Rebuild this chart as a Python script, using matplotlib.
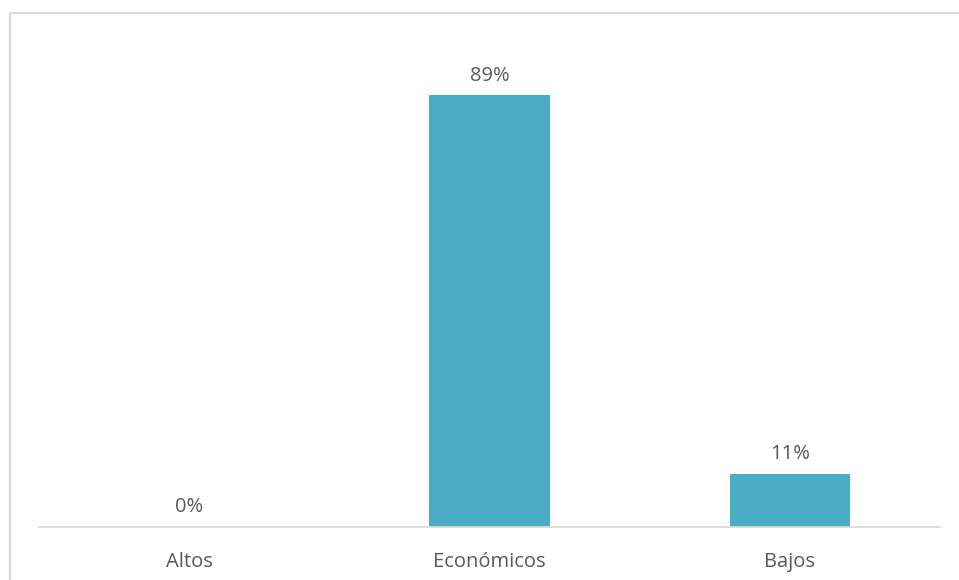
import matplotlib.pyplot as plt
from matplotlib.lines import Line2D

categorias = ["Altos", "Económicos", "Bajos"]
porcentajes = [0, 89, 11]

plt.rcParams['font.family'] = ['Open Sans', 'DejaVu Sans']

W, H = 959, 580
fig = plt.figure(figsize=(W / 100, H / 100), dpi=100)
ax = fig.add_axes([39 / W, 1 - 527 / H, 901 / W, (527 - 42) / H])

x = range(len(categorias))
bars = ax.bar(x, porcentajes, width=0.4, color="#4BACC6")
for b, v in zip(bars, porcentajes):
    ax.annotate(f"{v}%", (b.get_x() + b.get_width() / 2, v), xytext=(0, 7),
                textcoords="offset points", ha="center", va="bottom",
                fontsize=14.5, color="#595959")

ax.set_xlim(-0.5, 2.5)
ax.set_ylim(0, 100)
ax.set_xticks(list(x))
ax.set_xticklabels(categorias, fontsize=14.5, color="#595959")
ax.tick_params(axis="x", length=0, pad=18)
ax.set_yticks([])
for s in ["top", "right", "left"]:
    ax.spines[s].set_visible(False)
ax.spines["bottom"].set_color("#d9d9d9")
ax.spines["bottom"].set_linewidth(1.2)

# marco exterior del gráfico
fig.add_artist(Line2D([9.5 / W, 9.5 / W], [0, 1 - 13 / H], color="#d9d9d9", lw=1.5))
fig.add_artist(Line2D([9.5 / W, 1], [1 - 13 / H, 1 - 13 / H], color="#d9d9d9", lw=1.5))

fig.savefig("out.png", dpi=100)
